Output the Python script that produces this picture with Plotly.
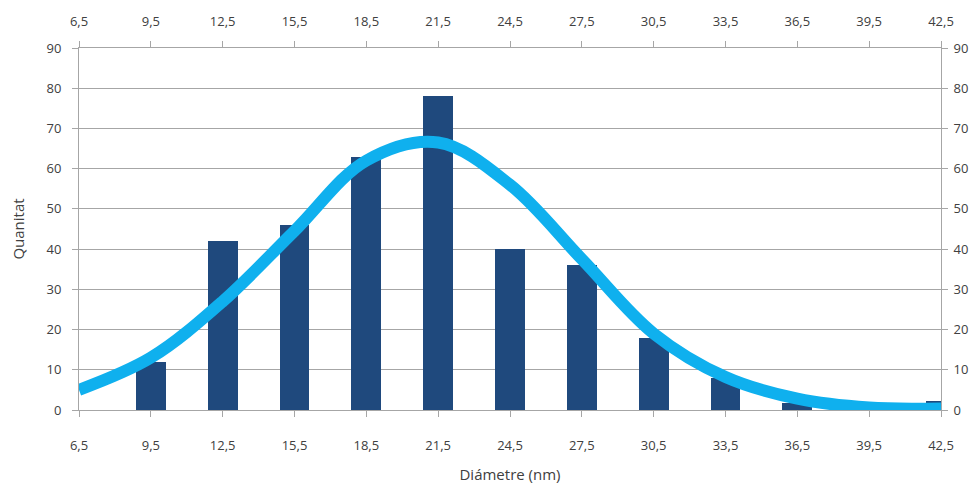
import plotly.graph_objects as go

categories = [6.5, 9.5, 12.5, 15.5, 18.5, 21.5, 24.5, 27.5, 30.5, 33.5, 36.5, 39.5, 42.5]
tick_labels = ["6,5", "9,5", "12,5", "15,5", "18,5", "21,5", "24,5", "27,5", "30,5", "33,5", "36,5", "39,5", "42,5"]
bar_values = [0, 12, 42, 46, 63, 78, 40, 36, 18, 8, 1.8, 0, 2.3]
curve_values = [5, 13, 27, 44.5, 62, 66.5, 56, 37.5, 19, 8.2, 2.8, 0.6, 0.4]
y_ticks = [0, 10, 20, 30, 40, 50, 60, 70, 80, 90]

font = dict(family="Open Sans, Noto Sans, sans-serif", size=13, color="#404040")
grid = "#A6A6A6"

fig = go.Figure()
fig.add_trace(go.Bar(x=categories, y=bar_values, width=1.25,
                     marker=dict(color="#1F497D", line=dict(width=0)),
                     showlegend=False))
fig.add_trace(go.Scatter(x=categories, y=curve_values, mode="lines",
                         line=dict(color="#0FB0EE", width=12, shape="spline", smoothing=1.0),
                         showlegend=False))
fig.add_trace(go.Scatter(x=categories, y=curve_values, xaxis="x2", yaxis="y2",
                         mode="markers", marker=dict(opacity=0), hoverinfo="skip",
                         showlegend=False))

axis_common = dict(showline=True, linecolor=grid, linewidth=1, ticks="outside",
                   ticklen=6, tickcolor=grid, tickfont=font, zeroline=False,
                   automargin=False)

# page body has an 8px margin: figure origin sits at (8, 8)
fig.update_layout(
    width=964, height=476,
    margin=dict(l=71, r=31, t=40, b=74),
    plot_bgcolor="white", paper_bgcolor="white",
    font=font,
    bargap=0,
    xaxis=dict(range=[6.5, 42.5001], tickvals=categories, ticktext=tick_labels,
               showgrid=False, ticklabelstandoff=17,
               title=dict(text="Diámetre (nm)", font=dict(size=15, color="#404040"), standoff=22),
               **axis_common),
    xaxis2=dict(range=[6.5, 42.5001], tickvals=categories, ticktext=tick_labels,
                overlaying="x", side="top", showgrid=False, ticklabelstandoff=10,
                **axis_common),
    yaxis=dict(range=[0, 90], tickvals=y_ticks, showgrid=True, gridcolor=grid,
               ticklabelstandoff=8,
               title=dict(text="Quanitat", font=dict(size=15, color="#404040"), standoff=22),
               **axis_common),
    yaxis2=dict(range=[0, 90], tickvals=y_ticks, overlaying="y", side="right",
                showgrid=False, ticklabelstandoff=3, **axis_common),
)

fig.write_html("out.html")
